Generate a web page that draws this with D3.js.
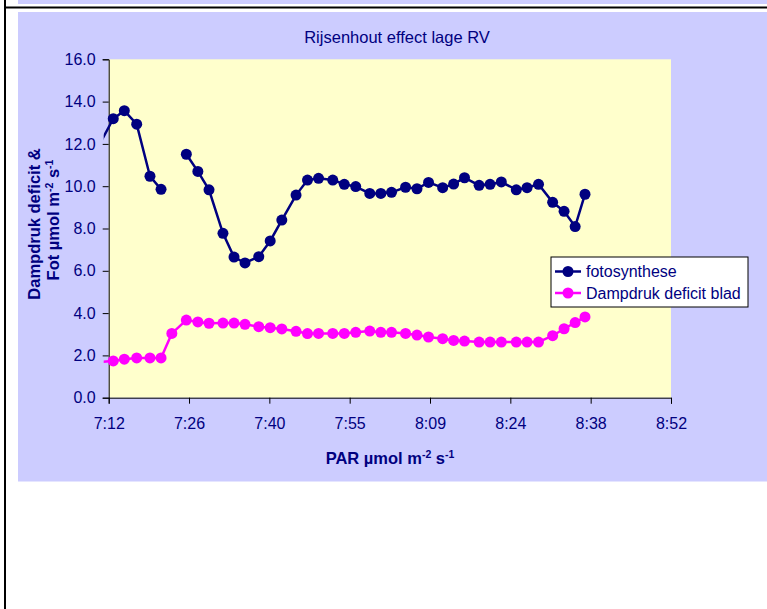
<!DOCTYPE html>
<html><head><meta charset="utf-8">
<script src="https://cdn.jsdelivr.net/npm/d3@7"></script>
<style>body{margin:0;background:#fff}svg{display:block;font-family:Arial,"Liberation Sans",sans-serif}</style>
</head><body><svg id="c" width="767" height="609"></svg>
<script>
// ---- data ----
const times = ["7:10:48","7:12:49","7:14:48","7:17:01","7:19:24","7:21:23","7:23:19","7:25:55","7:27:59","7:29:59",
 "7:32:29","7:34:28","7:36:26","7:38:54","7:40:57","7:43:02","7:45:35","7:47:38","7:49:37","7:52:10",
 "7:54:14","7:56:17","7:58:48","8:00:47","8:02:42","8:05:13","8:07:16","8:09:20","8:11:52","8:13:50",
 "8:15:47","8:18:24","8:20:22","8:22:23","8:25:04","8:27:00","8:29:03","8:31:35","8:33:38","8:35:37","8:37:23"];
const fotosynthese = [12.2,13.19,13.57,12.93,10.47,9.85,null,11.51,10.70,9.83,
 7.77,6.65,6.37,6.67,7.41,8.40,9.58,10.29,10.37,10.29,
 10.09,9.98,9.66,9.66,9.71,9.95,9.88,10.18,9.93,10.10,
 10.40,10.04,10.09,10.20,9.83,9.93,10.09,9.24,8.81,8.09,9.62];
const dampdruk = [1.7,1.74,1.82,1.88,1.88,1.88,3.04,3.67,3.58,3.52,
 3.53,3.53,3.47,3.36,3.31,3.25,3.14,3.03,3.04,3.04,
 3.04,3.09,3.15,3.09,3.09,3.04,2.96,2.87,2.79,2.71,
 2.68,2.63,2.63,2.63,2.63,2.63,2.63,2.93,3.26,3.55,3.82];
const xTickDays = [0.30,0.31,0.32,0.33,0.34,0.35,0.36,0.37];
const xTickLabels = ["7:12","7:26","7:40","7:55","8:09","8:24","8:38","8:52"];
const yTicks = [0,2,4,6,8,10,12,14,16];
const seriesNames = ["fotosynthese","Dampdruk deficit blad"];
const seriesColors = ["#000080","#FF00FF"];
const title = "Rijsenhout effect lage RV";

// ---- helpers ----
const toDay = s => { const p = s.split(":").map(Number); return (p[0]*3600+p[1]*60+(p[2]||0))/86400; };
const xs = times.map(toDay);

const svg = d3.select("#c");
const L = 108.7, R = 671, T = 59.3, B = 397.7;
const navy = "#000080";
const FF = "Arial, 'Liberation Sans', sans-serif";

// frame decorations
svg.append("rect").attr("x",18).attr("y",0).attr("width",749).attr("height",4).attr("fill","#CCCCFF");
svg.append("rect").attr("x",4).attr("y",6.5).attr("width",763).attr("height",2).attr("fill","#000");
svg.append("rect").attr("x",4).attr("y",0).attr("width",2).attr("height",609).attr("fill","#000");
svg.append("rect").attr("x",18).attr("y",12).attr("width",749).attr("height",469.5).attr("fill","#CCCCFF");

const x = d3.scaleLinear().domain([0.30,0.37]).range([L,R]);
const y = d3.scaleLinear().domain([0,16]).range([B,T]);

svg.append("rect").attr("x",L).attr("y",T).attr("width",R-L).attr("height",B-T).attr("fill","#FFFFCC");

// axes
const yAxis = svg.append("g").attr("transform",`translate(${L},0)`)
  .call(d3.axisLeft(y).tickValues(yTicks).tickFormat(d3.format(".1f")).tickSize(6).tickPadding(7));
const xAxis = svg.append("g").attr("transform",`translate(0,${B})`)
  .call(d3.axisBottom(x).tickValues(xTickDays).tickFormat((d,i)=>xTickLabels[i]).tickSize(6).tickPadding(14));
[yAxis,xAxis].forEach(g=>{
  g.select(".domain").attr("stroke","#000");
  g.selectAll(".tick line").attr("stroke","#000");
  g.selectAll("text").attr("fill",navy).style("font-size","16px").style("font-family",FF);
});

// clip
svg.append("clipPath").attr("id","clip").append("rect").attr("x",L-5).attr("y",T-8).attr("width",R-L+10).attr("height",B-T+16);

const series = [fotosynthese, dampdruk];
const g = svg.append("g").attr("clip-path","url(#clip)");
series.forEach((vals,si)=>{
  const pts = xs.map((d,i)=>({x:d,v:vals[i]}));
  const line = d3.line().defined(d=>d.v!=null).x(d=>x(d.x)).y(d=>y(d.v));
  g.append("path").datum(pts).attr("d",line).attr("fill","none").attr("stroke",seriesColors[si]).attr("stroke-width",2.5);
});
series.forEach((vals,si)=>{
  const pts = xs.map((d,i)=>({x:d,v:vals[i]})).filter(d=>d.v!=null && d.x>=0.30);
  svg.append("g").selectAll("circle").data(pts).join("circle")
    .attr("cx",d=>x(d.x)).attr("cy",d=>y(d.v)).attr("r",5.5).attr("fill",seriesColors[si]);
});

// title
svg.append("text").attr("x",397).attr("y",43).attr("text-anchor","middle").attr("fill",navy)
  .style("font-size","16.5px").text(title);

// x axis title
const xt = svg.append("text").attr("x",390).attr("y",464).attr("text-anchor","middle").attr("fill",navy)
  .style("font-size","16.5px").style("font-weight","bold");
xt.append("tspan").text("PAR µmol m");
xt.append("tspan").attr("dy",-6).style("font-size","10.5px").text("-2");
xt.append("tspan").attr("dy",6).text(" s");
xt.append("tspan").attr("dy",-6).style("font-size","10.5px").text("-1");

// y axis title
svg.append("text").attr("transform","rotate(-90)").attr("text-anchor","middle").attr("fill",navy)
  .style("font-size","16.5px").style("font-weight","bold").attr("x",-224).attr("y",40).text("Dampdruk deficit &");
const l2 = svg.append("text").attr("transform","rotate(-90)").attr("text-anchor","middle").attr("fill",navy)
  .style("font-size","16.5px").style("font-weight","bold").attr("x",-220).attr("y",59);
l2.append("tspan").text("Fot µmol m");
l2.append("tspan").attr("dy",-6).style("font-size","10.5px").text("-2");
l2.append("tspan").attr("dy",6).text(" s");
l2.append("tspan").attr("dy",-6).style("font-size","10.5px").text("-1");

// legend
const lg = svg.append("g").attr("transform","translate(551,257)");
lg.append("rect").attr("width",197).attr("height",50).attr("fill","#fff").attr("stroke","#000").attr("stroke-width",1);
seriesNames.forEach((n,i)=>{
  const yy = 14.5 + i*21.5;
  lg.append("line").attr("x1",4).attr("x2",30).attr("y1",yy).attr("y2",yy).attr("stroke",seriesColors[i]).attr("stroke-width",2.5);
  lg.append("circle").attr("cx",17).attr("cy",yy).attr("r",5.5).attr("fill",seriesColors[i]);
  lg.append("text").attr("x",35).attr("y",yy+5.8).attr("fill",navy).style("font-size","16px").text(n);
});
</script></body></html>
